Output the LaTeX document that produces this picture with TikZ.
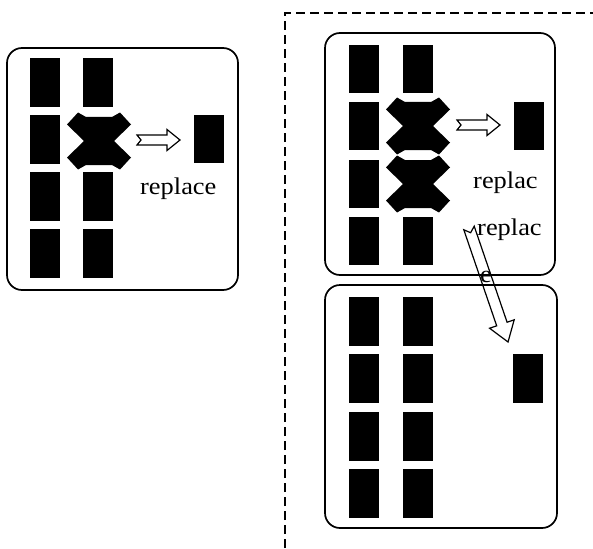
\documentclass[tikz,border=0pt]{standalone}
\usepackage{fontspec}
\setmainfont{Liberation Serif}
\begin{document}
\begin{tikzpicture}[x=1pt,y=-1pt,
  blk/.style={fill=black, draw=none, minimum width=30pt, minimum height=48pt, inner sep=0pt, outer sep=0pt},
  frame/.style={draw=black, line width=1.7pt, rounded corners=15pt, inner sep=0pt},
  dashline/.style={draw=black, line width=1.4pt, dash pattern=on 9pt off 5pt},
  harrow/.style={draw=black, line width=1.2pt, fill=white, line join=miter},
  darrow/.style={draw=black, line width=1.2pt, line join=miter},
  lbl/.style={font=\fontsize{24}{28}\selectfont, anchor=base west, inner sep=0pt},
  xshape/.pic={\fill[black] (-32,-16.5) -- (-21,-28.5) -- (-13,-24) -- (13,-24) -- (21,-28.5) -- (32,-16.5) -- (15,0) -- (32,16.5) -- (21,28.5) -- (13,24) -- (-13,24) -- (-21,28.5) -- (-32,16.5) -- (-15,0) -- cycle;}]
\useasboundingbox (0,0) rectangle (593,548);

% dashed enclosure
\coordinate (dA) at (285,548);
\coordinate (dB) at (285,13);
\coordinate (dC) at (593,13);
\draw[dashline] (dA) -- (dB) -- (dC);

% frames
\node[frame, minimum width=231pt, minimum height=242pt] (boxL) at (122.5,169) {};
\node[frame, minimum width=230pt, minimum height=242pt] (boxTR) at (440,154) {};
\node[frame, minimum width=232pt, minimum height=243pt] (boxBR) at (441,406.5) {};

% left box blocks
\foreach \c/\x in {1/45,2/98}{
  \foreach \r/\y in {1/82.5,2/139.5,3/196.5,4/253.5}{
    \ifnum\c\r=22\else
      \node[blk, minimum height=49pt] (L-\c-\r) at (\x,\y) {};
    \fi
  }
}
\pic (XL) at (99,141) {xshape};
\node[blk] (Lnew) at (209,139) {};
\draw[harrow, shift={(137,140)}] (0,-5) -- (30,-5) -- (30,-10.5) -- (43,0) -- (30,10.5) -- (30,5) -- (0,5) -- (4,0) -- cycle;
\node[lbl] (t1) at (140,194) {\scalebox{1.1}[1]{replace}};

% top right box blocks
\foreach \c/\x in {1/364,2/418}{
  \foreach \r/\y in {1/69,2/126,3/184,4/241}{
    \ifnum\c\r=22\else\ifnum\c\r=23\else
      \node[blk] (T-\c-\r) at (\x,\y) {};
    \fi\fi
  }
}
\pic (XT1) at (418,126) {xshape};
\pic (XT2) at (418,184) {xshape};
\node[blk] (Tnew) at (529,126) {};
\draw[harrow, shift={(457,125)}] (0,-5) -- (30,-5) -- (30,-10.5) -- (43,0) -- (30,10.5) -- (30,5) -- (0,5) -- (4,0) -- cycle;

% bottom right box blocks
\foreach \c/\x in {1/363.5,2/418}{
  \foreach \r/\y in {1/321.5,2/378.5,3/436.5,4/493.5}{
    \node[blk, minimum height=49pt] (B-\c-\r) at (\x,\y) {};
  }
}
\node[blk, minimum height=49pt] (Bnew) at (528,378.5) {};

% diagonal arrow
\draw[darrow, shift={(469,228)}, rotate=-71.1] (0,-5.5) -- (101.5,-5.5) -- (101.5,-13) -- (120.5,0) -- (101.5,13) -- (101.5,5.5) -- (0,5.5) -- (5,0) -- cycle;

% labels
\node[lbl] (t2) at (473,188) {\scalebox{1.1}[1]{replac}};
\node[lbl] (t3) at (477,235) {\scalebox{1.1}[1]{replac}};
\node[lbl] (t4) at (480,282) {\scalebox{1.1}[1]{e}};
\end{tikzpicture}
\end{document}
